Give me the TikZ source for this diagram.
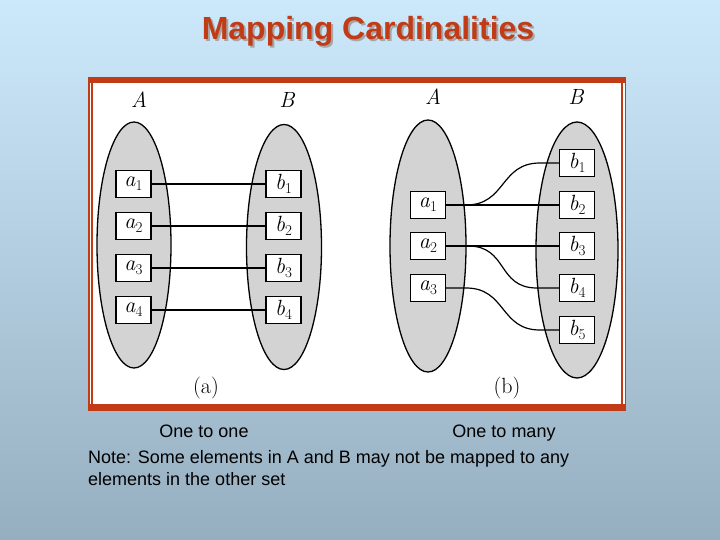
\documentclass[tikz,border=0pt]{standalone}
\usepackage{fontspec}
\newfontfamily\arial{Liberation Sans}
\usetikzlibrary{shapes.geometric}
\definecolor{framered}{RGB}{194,59,23}
\definecolor{skytop}{RGB}{204,233,251}
\definecolor{skybot}{RGB}{150,175,192}
\definecolor{setgray}{RGB}{211,211,211}
\def\boxw{35}
\def\boxh{27}
% Element mit tiefgestelltem Index
\newcommand\elt[2]{\textit{#1}\raisebox{-4pt}{\fontsize{15}{15}\selectfont #2}}

\begin{document}
\begin{tikzpicture}[x=1pt,y=-1pt,
		set/.style={draw,ellipse,fill=setgray,line width=1.3pt,inner sep=0pt},
		elem/.style={draw,fill=white,line width=1.2pt,minimum width=\boxw,
			minimum height=\boxh,inner sep=0pt,font=\fontsize{22}{22}\selectfont},
		w/.style={line width=1.2pt},
		setlbl/.style={font=\fontsize{22}{22}\selectfont\itshape},
		sublbl/.style={font=\fontsize{22}{22}\selectfont},
		txt/.style={font=\arial\fontsize{18}{22}\selectfont}]
	
	% ============ Hintergrund ============
	\shade[top color=skytop,bottom color=skybot] (0,0) rectangle (720,540);
	\useasboundingbox (0,0) rectangle (720,540);
	
	% ============ Titel ============
	\node[font=\arial\fontsize{32}{32}\selectfont\bfseries,text=black!35] (titleshadow) at (370,33) {Mapping Cardinalities};
	\node[font=\arial\fontsize{32}{32}\selectfont\bfseries,text=framered] (title) at (368,31) {Mapping Cardinalities};
	
	% ============ Rahmen ============
	\fill[white] (88,77) rectangle (626,411);
	\draw[framered,line width=1.5pt] (88.75,77.75) rectangle (625.25,410.25);
	\draw[framered,line width=2pt] (92,81) rectangle (622,407);
	\fill[framered] (88,77) rectangle (626,83);
	\fill[framered] (88,404) rectangle (626,411);
	
	% ============ (a) one to one ============
	\node[set,minimum width=74,minimum height=246] (setA) at (134,245) {};
	\node[set,minimum width=75,minimum height=245] (setB) at (284,247) {};
	\node[setlbl] (lblA) at (139,100) {A};
	\node[setlbl] (lblB) at (287,100) {B};
	\foreach \i/\y in {1/184,2/226,3/268,4/310}{
		\node[elem] (a\i) at (133.5,\y) {\elt{a}{\i}};
		\node[elem] (b\i) at (283.5,\y) {\elt{b}{\i}};
		\draw[w] (a\i) -- (b\i);
	}
	\node[sublbl] (capa) at (206,388) {(a)};
	
	% ============ (b) one to many ============
	\node[set,minimum width=76,minimum height=252] (setA2) at (428,246) {};
	\node[set,minimum width=82,minimum height=256] (setB2) at (577,250) {};
	\node[setlbl] (lblA2) at (433,97) {A};
	\node[setlbl] (lblB2) at (576,97) {B};
	\foreach \i/\y in {1/205,2/246,3/288}{
		\node[elem] (pa\i) at (428,\y) {\elt{a}{\i}};
	}
	\foreach \i/\y in {1/163,2/205,3/246,4/288,5/330}{
		\node[elem] (pb\i) at (577,\y) {\elt{b}{\i}};
	}
	% gerade und geschwungene Verbindungen
	\draw[w] (pa1) -- (pb2);
	\draw[w] (pa2) -- (pb3);
	\draw[w] (pa1.east) -- ++(20,0) .. controls +(40,0) and +(-40,0) .. ([xshift=-19]pb1.west) -- (pb1.west);
	\draw[w] (pa2.east) -- ++(22,0) .. controls +(40,0) and +(-40,0) .. ([xshift=-22]pb4.west) -- (pb4.west);
	\draw[w] (pa3.east) -- ++(20,0) .. controls +(40,0) and +(-40,0) .. ([xshift=-19]pb5.west) -- (pb5.west);
	\node[sublbl] (capb) at (507,388) {(b)};
	
	% ============ Beschriftung ============
	\node[txt,anchor=base] (one) at (204,437) {One to one};
	\node[txt,anchor=base] (many) at (504,437) {One to many};
	\node[txt,anchor=north west,align=left,inner sep=0pt] (note) at (88,450)
		{Note: Some elements in A and B may not be mapped to any\\elements in the other set};
	
\end{tikzpicture}
\end{document}
